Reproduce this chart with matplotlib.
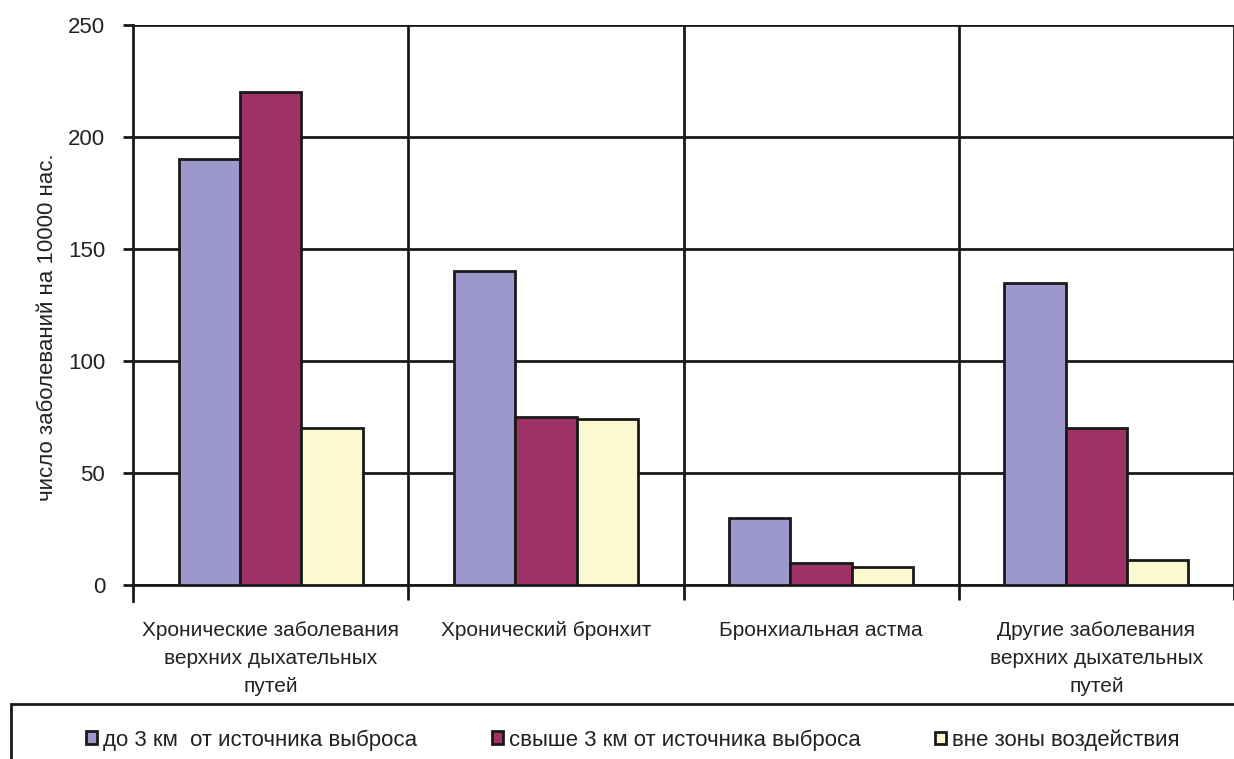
import matplotlib
matplotlib.use("Agg")
import matplotlib.pyplot as plt
from matplotlib.patches import Rectangle
import numpy as np

plt.rcParams["font.family"] = ["Liberation Sans", "DejaVu Sans"]

categories = ["Хронические заболевания\nверхних дыхательных\nпутей",
              "Хронический бронхит",
              "Бронхиальная астма",
              "Другие заболевания\nверхних дыхательных\nпутей"]
series_names = ["до 3 км  от источника выброса",
                "свыше 3 км от источника выброса",
                "вне зоны воздействия"]
near = [190, 140, 30, 135]
far = [220, 75, 10, 70]
outside = [70, 74, 8, 11]
colors = ["#9d98cc", "#9e3166", "#fdf9cf"]

W, H = 1234, 759
fig = plt.figure(figsize=(W / 100, H / 100), dpi=100)
ax = fig.add_axes([133 / W, 1 - 585 / H, 1101 / W, 560 / H])

x = np.arange(len(categories))
bw = 0.223
bars = []
for j, (vals, name, c) in enumerate(zip([near, far, outside], series_names, colors)):
    b = ax.bar(x + (j - 1) * bw, vals, bw, color=c, edgecolor="#1a1a1a", lw=2,
               label=name, zorder=3)
    bars.append(b)

ax.set_xlim(-0.5, -0.5 + 1101 / 276)
ax.set_ylim(0, 250)
ax.set_yticks(np.arange(0, 251, 50))
ax.set_xticks(x)
ax.set_xticklabels(categories, fontsize=15, linespacing=1.6)
ax.set_xticks(np.arange(len(categories)) + 0.5, minor=True)
ax.tick_params(axis="x", which="major", length=0, pad=26, labelcolor="#222222")
ax.tick_params(axis="x", which="minor", length=11, width=2, direction="out", color="#1a1a1a")
ax.tick_params(axis="y", length=7, width=2, direction="out", color="#1a1a1a",
               labelsize=16, pad=13, labelcolor="#222222")

ax.grid(True, axis="y", color="#1a1a1a", lw=2)
ax.grid(True, axis="x", which="minor", color="#1a1a1a", lw=2)
ax.set_axisbelow(True)
for s in ["top", "right"]:
    ax.spines[s].set_visible(False)
for s in ["left", "bottom"]:
    ax.spines[s].set_linewidth(2)
    ax.spines[s].set_color("#1a1a1a")
ax.spines["left"].set_bounds(-7, 250)

ax.set_ylabel("число заболеваний на 10000 нас.", fontsize=16, color="#222222", va="center")
ax.yaxis.set_label_coords(-0.078, 0.46)

# legend box at the bottom, open to the right and below
fig.patches.append(Rectangle((11 / W, -0.1), 1.1, 0.1 + (H - 704) / H,
                             transform=fig.transFigure, fill=False,
                             ec="#1a1a1a", lw=2))
for b, name, xs in zip(bars, series_names, [86, 492, 935]):
    fig.legend([b], [name], loc="center left", bbox_to_anchor=(xs / W, (H - 740) / H),
               frameon=False, fontsize=16, handlelength=0.5, handleheight=0.5,
               handletextpad=0.25, borderpad=0, borderaxespad=0, labelcolor="#222222")

fig.savefig("out.png", dpi=100)
